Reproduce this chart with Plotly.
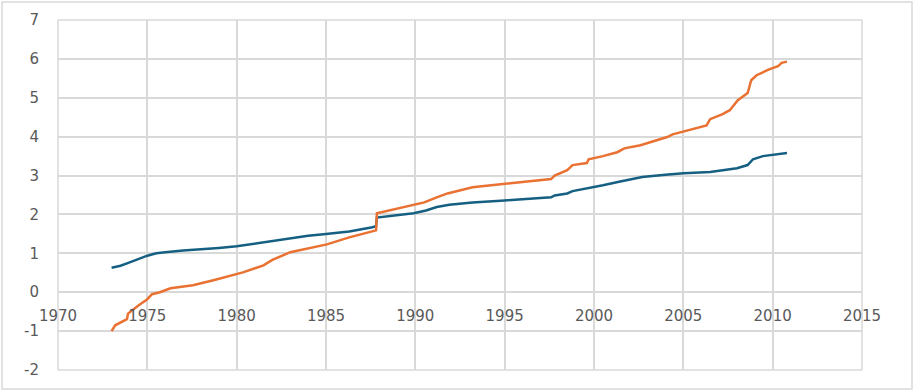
import plotly.graph_objects as go

# ===============================
# DATA
# ===============================
blue_year = [1973.0, 1973.5, 1973.9, 1974.5, 1975.0, 1975.5, 1976.0, 1977.0, 1978.0, 1979.0,
             1980.0, 1981.0, 1981.9, 1983.0, 1984.0, 1985.0, 1986.3, 1987.6, 1987.8, 1987.85,
             1988.75, 1989.9, 1990.6, 1991.2, 1991.9, 1993.2, 1995.0, 1996.5, 1997.6, 1997.8,
             1998.5, 1998.8, 2000.05, 2000.5, 2001.4, 2002.7, 2004.0, 2005.0, 2006.5, 2007.4,
             2008.0, 2008.6, 2008.9, 2009.45, 2010.0, 2010.8]
blue_val = [0.63, 0.68, 0.75, 0.85, 0.94, 1.00, 1.03, 1.07, 1.10, 1.14,
            1.18, 1.25, 1.32, 1.39, 1.45, 1.50, 1.56, 1.67, 1.70, 1.92,
            1.97, 2.03, 2.10, 2.19, 2.25, 2.31, 2.36, 2.40, 2.44, 2.49,
            2.54, 2.60, 2.70, 2.75, 2.84, 2.96, 3.02, 3.06, 3.09, 3.14,
            3.19, 3.27, 3.42, 3.50, 3.53, 3.58]

orange_year = [1973.0, 1973.2, 1973.86, 1973.92, 1974.5, 1975.0, 1975.26, 1975.7, 1976.3, 1977.55,
               1978.7, 1979.8, 1980.35, 1981.5, 1982.0, 1983.0, 1984.3, 1985.05, 1986.3, 1987.8,
               1987.85, 1988.75, 1989.9, 1990.5, 1991.2, 1991.8, 1993.2, 1995.0, 1996.6, 1997.6,
               1997.8, 1998.5, 1998.8, 1999.6, 1999.7, 2000.5, 2001.3, 2001.7, 2002.6, 2003.7,
               2004.1, 2004.4, 2006.3, 2006.5, 2007.2, 2007.6, 2008.05, 2008.6, 2008.8, 2009.1,
               2009.8, 2010.3, 2010.5, 2010.8]
orange_val = [-1.00, -0.85, -0.69, -0.55, -0.34, -0.18, -0.05, 0.00, 0.10, 0.18,
              0.31, 0.44, 0.51, 0.69, 0.83, 1.03, 1.16, 1.23, 1.41, 1.59,
              2.03, 2.13, 2.26, 2.31, 2.44, 2.54, 2.70, 2.78, 2.86, 2.91,
              3.00, 3.14, 3.27, 3.32, 3.42, 3.50, 3.60, 3.70, 3.78, 3.94,
              3.99, 4.06, 4.29, 4.45, 4.58, 4.68, 4.94, 5.12, 5.45, 5.58,
              5.73, 5.81, 5.90, 5.93]

y_ticks = [-2, -1, 0, 1, 2, 3, 4, 5, 6, 7]
y_ticktext = ["-2", "-1", "0", "1", "2", "3", "4", "5", "6", "7"]
x_ticks = [1970, 1975, 1980, 1985, 1990, 1995, 2000, 2005, 2010, 2015]

# ===============================
# LAYOUT CONSTANTS
# ===============================
W, H = 915, 392
ML, MR, MT, MB = 58, 53, 20, 22
GRID = "#d9d9d9"
TXT = "#595959"
FONT = "DejaVu Sans"

fig = go.Figure()

fig.add_trace(go.Scatter(
    x=blue_year, y=blue_val, mode="lines",
    line=dict(color="#156082", width=2.5), showlegend=False
))
fig.add_trace(go.Scatter(
    x=orange_year, y=orange_val, mode="lines",
    line=dict(color="#E97132", width=2.5), showlegend=False
))

pw, ph = W - ML - MR, H - MT - MB

# outer chart border (Excel-style frame)
fig.add_shape(
    type="rect", xref="paper", yref="paper",
    x0=(2 - ML) / pw, x1=(W - 3 - ML) / pw,
    y0=-(MB - 3) / ph, y1=(ph + MT - 2) / ph,
    line=dict(color=GRID, width=1.5), fillcolor="rgba(0,0,0,0)", layer="below"
)
# plot-area edges (gridlines at 1970/2015 and -2/7)
fig.add_shape(
    type="rect", xref="paper", yref="paper",
    x0=0, x1=1, y0=0, y1=1,
    line=dict(color=GRID, width=1.5), fillcolor="rgba(0,0,0,0)", layer="below"
)

fig.update_layout(
    width=W, height=H,
    margin=dict(l=ML, r=MR, t=MT, b=MB, autoexpand=False),
    paper_bgcolor="white", plot_bgcolor="rgba(0,0,0,0)",
    font=dict(family=FONT, size=15, color=TXT),
    xaxis=dict(
        range=[1970, 2015], tickvals=x_ticks,
        showgrid=True, gridcolor=GRID, gridwidth=1.5,
        zeroline=False, showline=False, automargin=False,
        anchor="free", position=2 / 9,
        ticks="", ticklabelstandoff=13,
        tickfont=dict(family=FONT, size=15, color=TXT),
    ),
    yaxis=dict(
        range=[-2, 7], tickvals=y_ticks, ticktext=y_ticktext,
        showgrid=True, gridcolor=GRID, gridwidth=1.5,
        zeroline=False, showline=False, automargin=False,
        ticks="", ticklabelstandoff=18,
        tickfont=dict(family=FONT, size=15, color=TXT),
    ),
)

fig.write_html("out.html", config={"displayModeBar": False},
               post_script="document.body.style.margin='0';")
